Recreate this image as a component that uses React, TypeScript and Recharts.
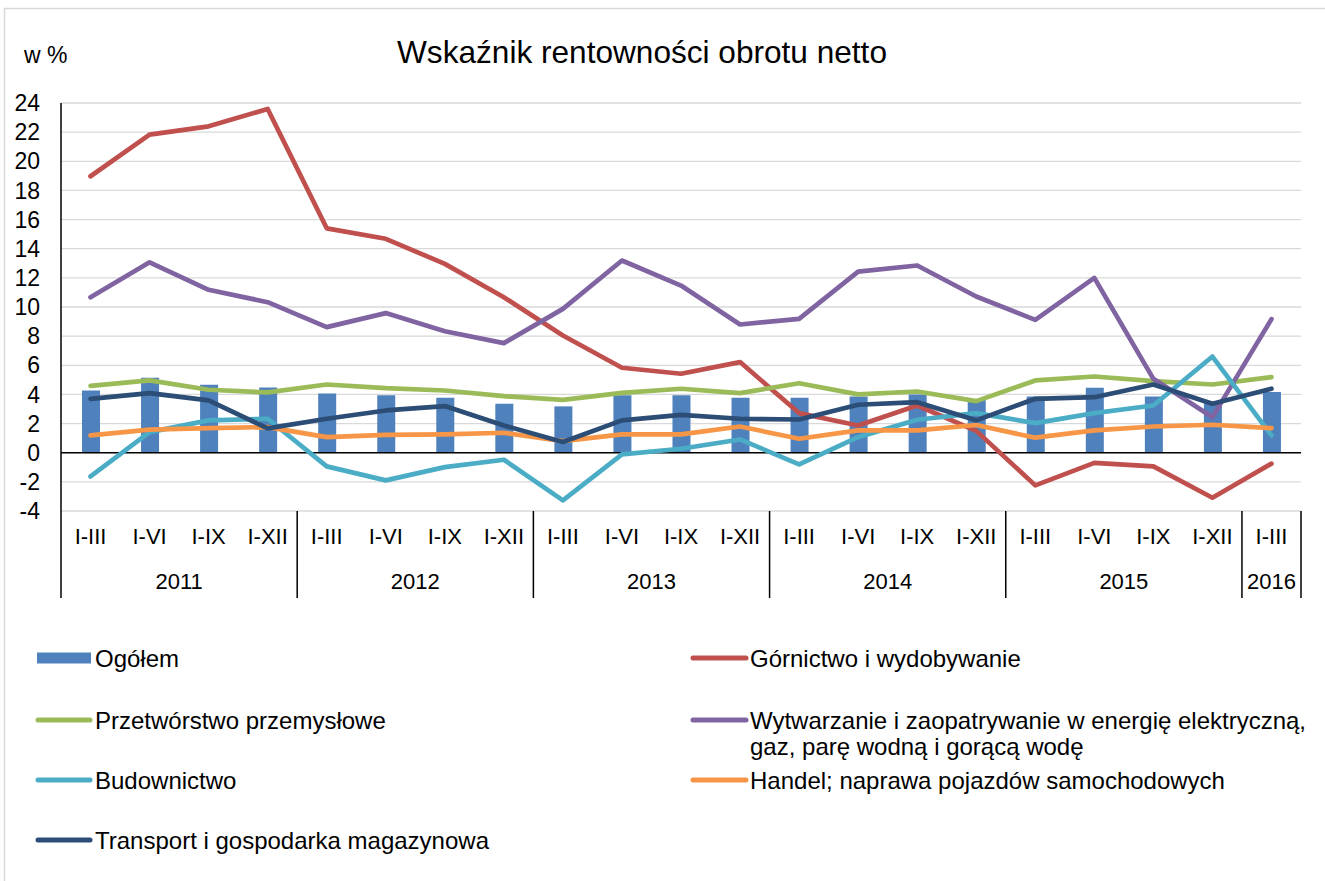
import React from "react";
import {
  ComposedChart,
  Bar,
  Line,
  XAxis,
  YAxis,
  CartesianGrid,
  ReferenceLine,
} from "recharts";

const quarters = [
  "I-III", "I-VI", "I-IX", "I-XII",
  "I-III", "I-VI", "I-IX", "I-XII",
  "I-III", "I-VI", "I-IX", "I-XII",
  "I-III", "I-VI", "I-IX", "I-XII",
  "I-III", "I-VI", "I-IX", "I-XII",
  "I-III",
];
const years = [
  "2011", "2011", "2011", "2011",
  "2012", "2012", "2012", "2012",
  "2013", "2013", "2013", "2013",
  "2014", "2014", "2014", "2014",
  "2015", "2015", "2015", "2015",
  "2016",
];

const ogolem = [4.27, 5.14, 4.66, 4.48, 4.07, 3.95, 3.77, 3.36, 3.18, 3.95, 3.95, 3.77, 3.77, 3.86, 4.0, 3.63, 3.86, 4.46, 3.86, 3.5, 4.16];
const gornictwo = [18.97, 21.83, 22.4, 23.59, 15.4, 14.68, 12.96, 10.67, 8.04, 5.83, 5.42, 6.22, 2.72, 1.87, 3.24, 1.5, -2.24, -0.7, -0.94, -3.09, -0.75];
const przetworstwo = [4.59, 4.96, 4.32, 4.14, 4.68, 4.43, 4.27, 3.88, 3.63, 4.11, 4.39, 4.09, 4.77, 4.0, 4.2, 3.54, 4.96, 5.23, 4.91, 4.68, 5.19];
const wytwarzanie = [10.67, 13.07, 11.18, 10.33, 8.62, 9.58, 8.34, 7.52, 9.87, 13.19, 11.47, 8.8, 9.19, 12.43, 12.85, 10.72, 9.12, 12.0, 5.07, 2.44, 9.17];
const budownictwo = [-1.63, 1.41, 2.22, 2.33, -0.94, -1.9, -0.99, -0.48, -3.27, -0.12, 0.27, 0.91, -0.8, 1.07, 2.26, 2.72, 2.03, 2.72, 3.24, 6.6, 1.19];
const handel = [1.19, 1.58, 1.69, 1.76, 1.07, 1.23, 1.26, 1.37, 0.8, 1.26, 1.26, 1.8, 0.96, 1.53, 1.53, 1.9, 1.03, 1.53, 1.8, 1.92, 1.69];
const transport = [3.7, 4.09, 3.59, 1.67, 2.33, 2.9, 3.2, 1.87, 0.73, 2.22, 2.6, 2.33, 2.28, 3.29, 3.47, 2.22, 3.7, 3.81, 4.68, 3.36, 4.39];

const yTicks = [-4, -2, 0, 2, 4, 6, 8, 10, 12, 14, 16, 18, 20, 22, 24];

const title = "Wskaźnik rentowności obrotu netto";
const unitLabel = "w %";

const series = [
  { key: "gornictwo", name: "Górnictwo i wydobywanie", color: "#C0504D" },
  { key: "przetworstwo", name: "Przetwórstwo przemysłowe", color: "#9BBB59" },
  { key: "wytwarzanie", name: "Wytwarzanie i zaopatrywanie w energię elektryczną,|gaz, parę wodną i gorącą wodę", color: "#8064A2" },
  { key: "budownictwo", name: "Budownictwo", color: "#4BACC6" },
  { key: "handel", name: "Handel; naprawa pojazdów samochodowych", color: "#F79646" },
  { key: "transport", name: "Transport i gospodarka magazynowa", color: "#2C4D75" },
];

const data = quarters.map((q, i) => ({
  idx: i,
  quarter: q,
  year: years[i],
  ogolem: ogolem[i],
  gornictwo: gornictwo[i],
  przetworstwo: przetworstwo[i],
  wytwarzanie: wytwarzanie[i],
  budownictwo: budownictwo[i],
  handel: handel[i],
  transport: transport[i],
}));

const W = 1325;
const H = 881;
const FONT = "'Liberation Sans', Arial, sans-serif";
const MARGIN = { top: 103, right: 24, left: 0, bottom: 280 };
const YAXIS_W = 61;
const BW = (W - MARGIN.left - MARGIN.right - YAXIS_W) / quarters.length;

const XTick = (props: any) => {
  const { x, y, payload } = props;
  const i = payload.index;
  const isFirst = i === 0 || years[i] !== years[i - 1];
  const isLast = i === years.length - 1;
  let groupSize = 0;
  if (isFirst) {
    let j = i;
    while (j < years.length && years[j] === years[i]) j++;
    groupSize = j - i;
  }
  const left = x - BW / 2;
  return (
    <g>
      <text x={x} y={y + 33} textAnchor="middle" fontSize={22} fontFamily={FONT} fill="#000">
        {quarters[i]}
      </text>
      {isFirst && (
        <>
          <line x1={left} x2={left} y1={y} y2={y + 87} stroke="#000" strokeWidth={1.5} />
          <text
            x={left + (groupSize * BW) / 2}
            y={y + 78}
            textAnchor="middle"
            fontSize={22}
            fontFamily={FONT}
            fill="#000"
          >
            {years[i]}
          </text>
        </>
      )}
      {isLast && (
        <line x1={x + BW / 2} x2={x + BW / 2} y1={y} y2={y + 87} stroke="#000" strokeWidth={1.5} />
      )}
    </g>
  );
};

const LegendSwatchLine = ({ x1, x2, y, color }: any) => (
  <line x1={x1} x2={x2} y1={y} y2={y} stroke={color} strokeWidth={5} strokeLinecap="round" />
);

const legendLayout = [
  { col: 0, y: 658 },
  { col: 1, y: 658 },
  { col: 0, y: 720 },
  { col: 1, y: 720 },
  { col: 0, y: 780 },
  { col: 1, y: 780 },
  { col: 0, y: 840 },
];
const colX = [
  { s1: 38, s2: 90, t: 95 },
  { s1: 693, s2: 746, t: 750 },
];

export default function App() {
  const legendItems = [
    { name: "Ogółem", color: "#4F81BD", bar: true },
    ...series.map((s) => ({ name: s.name, color: s.color, bar: false })),
  ];
  return (
    <div style={{ position: "absolute", left: 0, top: 0, width: W, height: H, background: "#fff" }}>
      <ComposedChart width={W} height={H} data={data} margin={MARGIN}>
        <CartesianGrid horizontal vertical={false} stroke="#D9D9D9" strokeWidth={1.3} />
        <XAxis
          dataKey="idx"
          type="category"
          interval={0}
          axisLine={false}
          tickLine={false}
          tickSize={0}
          tickMargin={0}
          height={90}
          tick={<XTick />}
        />
        <YAxis
          type="number"
          domain={[-4, 24]}
          ticks={yTicks}
          interval={0}
          width={YAXIS_W}
          axisLine={{ stroke: "#000", strokeWidth: 1.5 }}
          tickLine={false}
          tickSize={0}
          tickMargin={21}
          tick={{ fontSize: 23, fontFamily: FONT, fill: "#000" }}
        />
        <Bar dataKey="ogolem" fill="#4F81BD" barSize={18} isAnimationActive={false} />
        <ReferenceLine y={0} stroke="#000" strokeWidth={1.5} />
        {series.map((s) => (
          <Line
            key={s.key}
            dataKey={s.key}
            type="linear"
            stroke={s.color}
            strokeWidth={4.7}
            strokeLinecap="round"
            strokeLinejoin="round"
            dot={false}
            activeDot={false}
            isAnimationActive={false}
          />
        ))}
      </ComposedChart>
      <svg
        width={W}
        height={H}
        style={{ position: "absolute", left: 0, top: 0, pointerEvents: "none" }}
      >
        <line x1={4} x2={W} y1={8.5} y2={8.5} stroke="#D9D9D9" strokeWidth={1.5} />
        <line x1={4.5} x2={4.5} y1={8} y2={H} stroke="#D9D9D9" strokeWidth={1.5} />
        <text x={642} y={62.5} textAnchor="middle" fontSize={31.6} fontFamily={FONT} fill="#000">
          {title}
        </text>
        <text x={24} y={63} fontSize={23} fontFamily={FONT} fill="#000">
          {unitLabel}
        </text>
        {legendItems.map((it, k) => {
          const L = legendLayout[k];
          const c = colX[L.col];
          const lines = it.name.split("|");
          return (
            <g key={k}>
              {it.bar ? (
                <rect x={c.s1 - 1} y={L.y - 5.5} width={c.s2 - c.s1 + 2} height={11} fill={it.color} />
              ) : (
                <LegendSwatchLine x1={c.s1} x2={c.s2} y={L.y} color={it.color} />
              )}
              {lines.map((ln, li) => (
                <text
                  key={li}
                  x={c.t}
                  y={L.y + 8.5 + li * 26}
                  fontSize={24}
                  fontFamily={FONT}
                  fill="#000"
                >
                  {ln}
                </text>
              ))}
            </g>
          );
        })}
      </svg>
    </div>
  );
}
